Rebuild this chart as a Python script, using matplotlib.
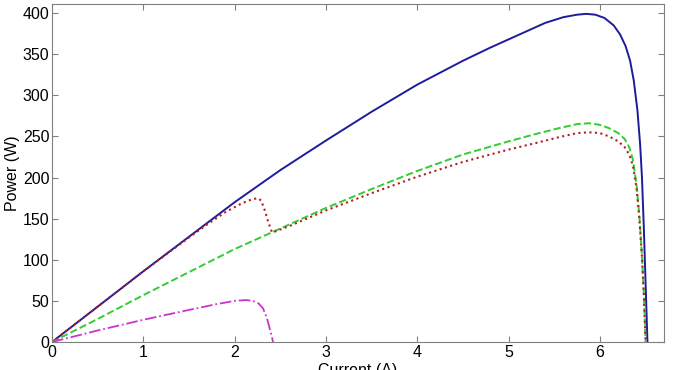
import matplotlib
matplotlib.use('Agg')
import matplotlib.pyplot as plt

plt.rcParams['font.family'] = ['Liberation Sans', 'DejaVu Sans']

# P-I curves (current in A, power in W)
i_blue = [0, 0.5, 1, 1.5, 2, 2.5, 3, 3.5, 4, 4.5, 4.8, 5, 5.2, 5.4, 5.6, 5.75, 5.85, 5.95, 6.05, 6.15, 6.22, 6.28, 6.33, 6.37, 6.41, 6.44, 6.46, 6.48, 6.5, 6.52]
p_blue = [0, 43, 86, 128, 170, 209, 245, 280, 313, 342, 358, 368, 378, 388, 395, 398, 399, 398, 394, 385, 374, 360, 342, 318, 282, 240, 200, 140, 70, 0]

i_green = [0, 0.5, 1, 1.5, 2, 2.5, 3, 3.5, 4, 4.5, 5, 5.3, 5.55, 5.75, 5.88, 6.0, 6.1, 6.2, 6.27, 6.32, 6.36, 6.4, 6.43, 6.46, 6.48, 6.5]
p_green = [0, 28, 57, 85, 113, 138, 163, 186, 208, 228, 244, 253, 260, 265, 266, 264, 260, 254, 247, 237, 222, 192, 155, 105, 60, 0]

i_red = [0, 0.5, 1, 1.5, 1.7, 1.9, 2.05, 2.15, 2.25, 2.29, 2.33, 2.37, 2.41, 2.6, 3, 3.5, 4, 4.5, 5, 5.3, 5.55, 5.75, 5.88, 6.0, 6.1, 6.2, 6.27, 6.32, 6.36, 6.4, 6.43, 6.46, 6.48, 6.5]
p_red = [0, 43, 86, 127, 143, 158, 167, 172, 175, 172, 160, 145, 133, 141, 160, 181, 201, 219, 234, 242, 249, 254, 255, 254, 250, 244, 237, 228, 215, 188, 152, 103, 58, 0]

i_mag = [0, 0.5, 1, 1.5, 1.8, 2.0, 2.12, 2.2, 2.26, 2.31, 2.35, 2.38, 2.41, 2.42]
p_mag = [0, 14, 27, 39, 46, 50, 51, 50, 47, 41, 30, 18, 5, 0]

fig = plt.figure(figsize=(6.74, 3.70), dpi=100)
ax = fig.add_axes([0.0772, 0.0757, 0.9078, 0.9135])

ax.plot(i_blue, p_blue, '-', color='#1c1c9c', lw=1.4)
ax.plot(i_green, p_green, '--', color='#33cc33', lw=1.4)
ax.plot(i_red, p_red, ':', color='#b02020', lw=1.5)
ax.plot(i_mag, p_mag, '-.', color='#cc33cc', lw=1.3)

ax.set_xlim(0, 6.7)
ax.set_ylim(0, 411)
ax.set_xticks([0, 1, 2, 3, 4, 5, 6])
ax.set_yticks(range(0, 401, 50))
ax.tick_params(direction='in', top=True, right=True, labelsize=11.5,
               color='#808080', length=4, pad=2)
for s in ax.spines.values():
    s.set_color('#808080')

# the reference crops the x label at the bottom edge, so it is left that way
ax.set_xlabel('Current (A)', fontsize=11.5, labelpad=2)
ax.set_ylabel('Power (W)', fontsize=11.5, labelpad=2)

fig.savefig('out.png', dpi=100)
